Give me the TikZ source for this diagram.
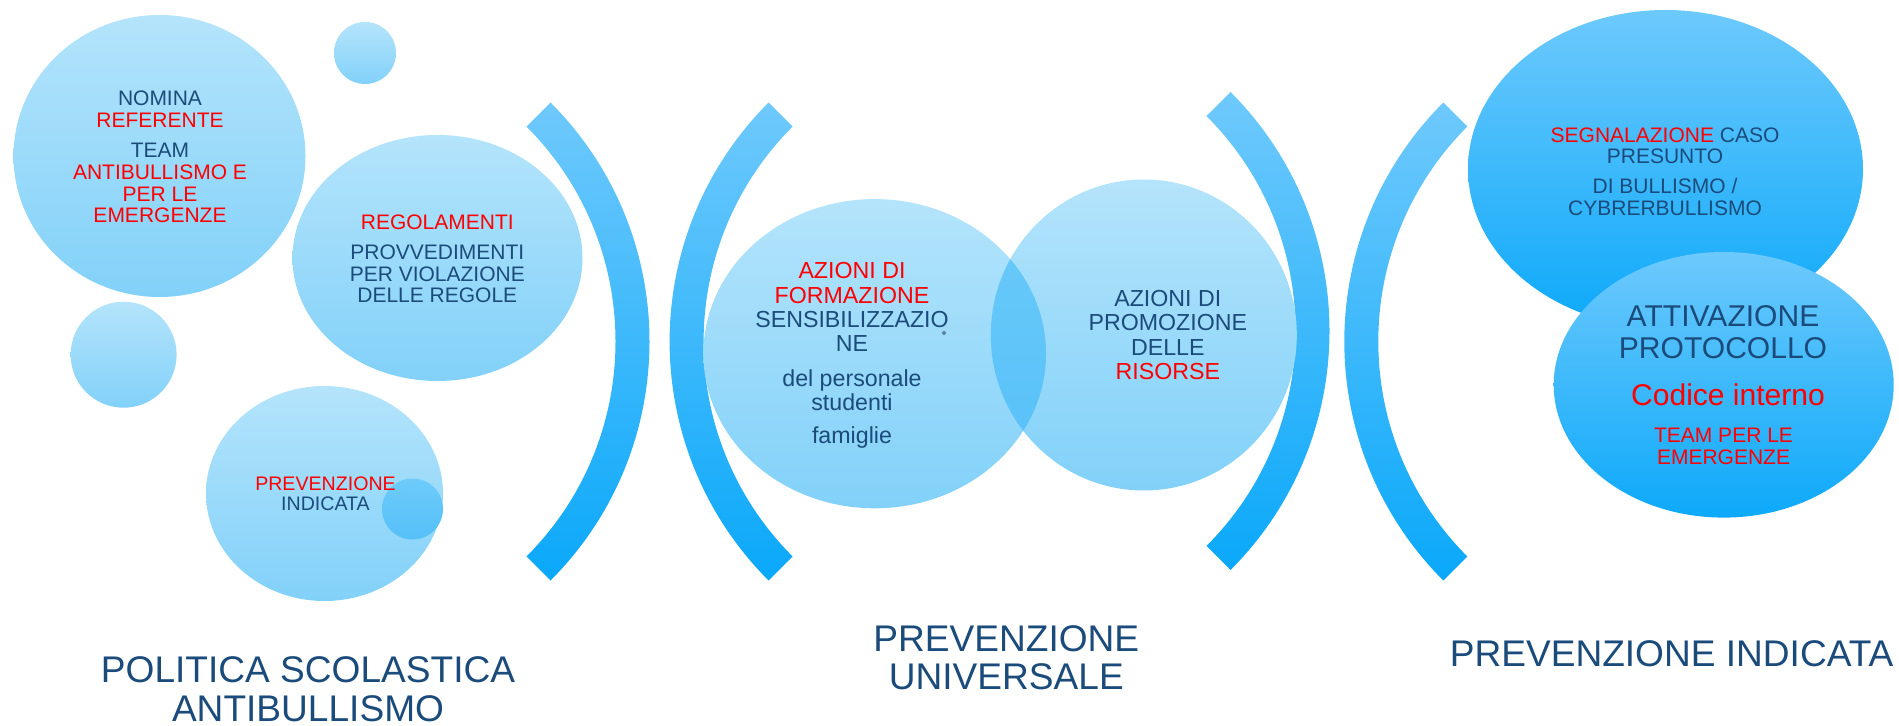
\documentclass[tikz,border=0pt]{standalone}
\usepackage{fontspec}
\setmainfont{Liberation Sans}
\usepackage{tikz}

\definecolor{ballTop}{HTML}{B4E4FB}
\definecolor{ballBot}{HTML}{82D1F9}
\definecolor{midTop}{HTML}{6DCBFA}
\definecolor{midBot}{HTML}{55C0F8}
\definecolor{deepTop}{HTML}{6DC9FC}
\definecolor{deepBot}{HTML}{0DA9FA}
\definecolor{bandTop}{HTML}{6FC9FC}
\definecolor{bandBot}{HTML}{0AA8FA}
\definecolor{txtblue}{HTML}{1B4B7B}
\definecolor{txtred}{HTML}{FF0000}

\begin{document}
\begin{tikzpicture}[scale=0.2,
  lightball/.style={top color=ballTop,bottom color=ballBot},
  midball/.style={top color=midTop,bottom color=midBot},
  deepball/.style={top color=deepTop,bottom color=deepBot},
  band/.style={top color=bandTop,bottom color=bandBot},
  bubble/.style={align=center,text=txtblue,anchor=north},
  smalltext/.style={font=\fontsize{11.95}{12.4}\selectfont},
  tinytext/.style={font=\fontsize{11.15}{11.3}\selectfont},
  midtext/.style={font=\fontsize{13.2}{13.9}\selectfont},
  bigtext/.style={font=\fontsize{17.1}{18.4}\selectfont},
  titletext/.style={font=\fontsize{21.1}{21.85}\selectfont}]
\tikzstyle{every node}+=[inner sep=0pt]
\useasboundingbox (0,0) rectangle (189.9,-72.6);
\foreach \cx/\cy/\a in {31.15/-34.15/0, 100.76/-34.15/180, 99.15/-33.1/0, 168.23/-34.15/180}
  \shade[band] (\cx,\cy) ++(\a+45:33.8) arc (\a+45:\a-45:33.8) -- ++(\a+135:3.4) arc (\a-45:\a+45:30.4) -- cycle;
\shade[lightball] (15.95,-15.6) ellipse (14.6 and 14.1);
\shade[lightball] (36.5,-5.3) circle (3.1);
\shade[lightball] (43.75,-25.8) ellipse (14.5 and 12.3);
\shade[lightball] (12.36,-35.47) circle (5.3);
\shade[lightball] (32.45,-49.35) ellipse (11.85 and 10.75);
\shade[midball] (41.25,-50.9) circle (3.05);
\shade[lightball] (87.47,-35.37) ellipse (17.13 and 15.46);
\shade[lightball] (114.38,-33.5) ellipse (15.3 and 15.55);
\begin{scope}
\clip (87.47,-35.37) ellipse (17.13 and 15.46);
\shade[midball] (114.38,-33.5) ellipse (15.3 and 15.55);
\end{scope}
\shade[deepball] (166.55,-16.9) ellipse (19.75 and 15.9);
\shade[deepball] (172.37,-38.48) ellipse (17.0 and 13.28);
\fill[txtblue!70] (94.4,-33.3) circle (0.2);
\draw (16.0,-9.05) node[bubble,smalltext] (nomina) {NOMINA\\\textcolor{txtred}{REFERENTE}\\[4.8pt]TEAM\\\textcolor{txtred}{ANTIBULLISMO E}\\\textcolor{txtred}{PER LE}\\\textcolor{txtred}{EMERGENZE}};
\draw (43.73,-21.4) node[bubble,smalltext] (regolamenti) {\textcolor{txtred}{REGOLAMENTI}\\[4.9pt]PROVVEDIMENTI\\PER VIOLAZIONE\\DELLE REGOLE};
\draw (32.55,-47.67) node[bubble,tinytext] (prevind) {\textcolor{txtred}{PREVENZIONE}\\INDICATA};
\draw (85.2,-26.21) node[bubble,midtext] (formazione) {\textcolor{txtred}{AZIONI DI}\\\textcolor{txtred}{FORMAZIONE}\\SENSIBILIZZAZIO\\NE\\[5.6pt]del personale\\studenti\\[4.8pt]famiglie};
\draw (116.78,-28.98) node[bubble,midtext] (promozione) {AZIONI DI\\PROMOZIONE\\DELLE\\\textcolor{txtred}{RISORSE}};
\draw (166.5,-12.71) node[bubble,smalltext] (segnalazione) {\textcolor{txtred}{SEGNALAZIONE} CASO\\PRESUNTO\\[4.5pt]DI BULLISMO /\\CYBRERBULLISMO};
\draw (172.3,-30.49) node[bubble,bigtext] (attivazione) {ATTIVAZIONE\\PROTOCOLLO};
\draw (172.8,-40.51) node[anchor=base,bigtext,text=txtred] (codice) {Codice interno};
\draw (172.35,-42.8) node[bubble,smalltext] (teamemerg) {\textcolor{txtred}{TEAM PER LE}\\\textcolor{txtred}{EMERGENZE}};
\draw (30.8,-65.64) node[bubble,titletext] (politica) {POLITICA SCOLASTICA\\ANTIBULLISMO};
\draw (100.63,-62.48) node[bubble,titletext] (universale) {PREVENZIONE\\UNIVERSALE};
\draw (167.16,-66.67) node[anchor=base,titletext,text=txtblue] (indicata) {PREVENZIONE INDICATA};
\end{tikzpicture}
\end{document}
